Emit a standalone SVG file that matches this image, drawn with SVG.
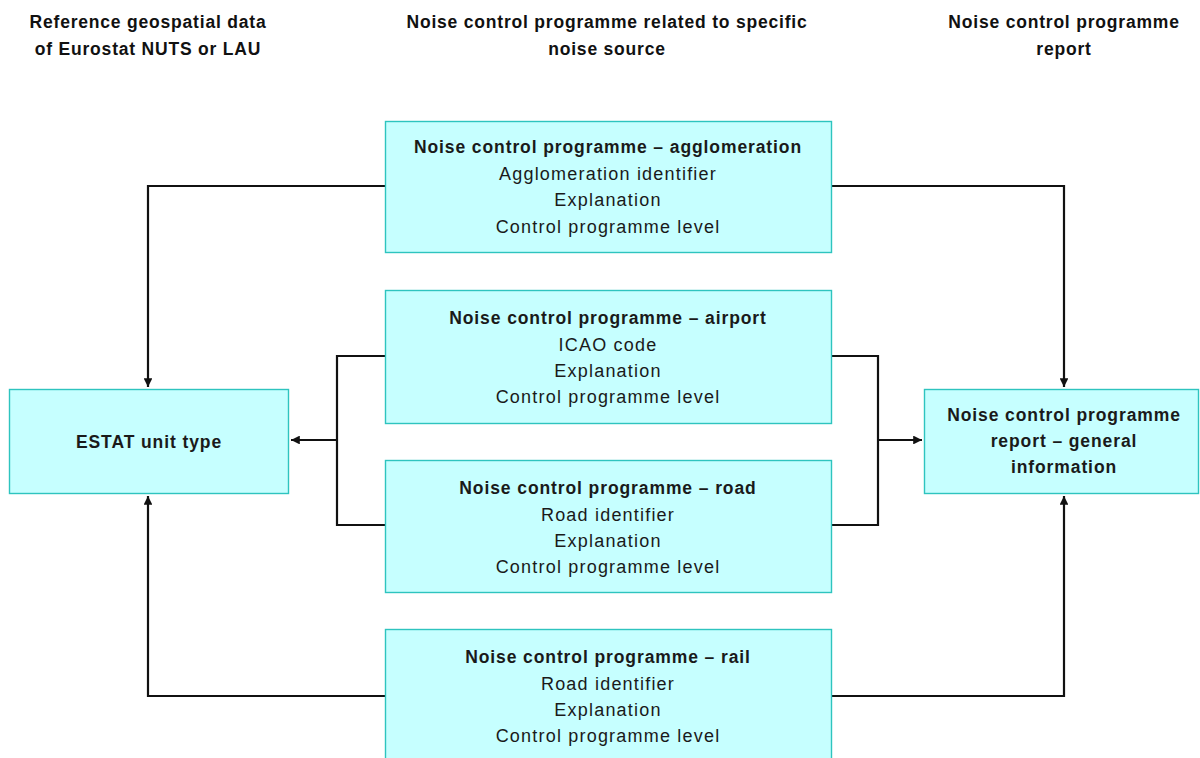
<svg xmlns="http://www.w3.org/2000/svg" width="1200" height="758" viewBox="0 0 1200 758">
<defs>
<style>
.box{fill:#C6FFFF;stroke:#2EC4BF;stroke-width:1.4}
.t{font-family:"Liberation Sans",Arial,sans-serif;font-size:18px;letter-spacing:1.2px;fill:#1a1a1a;text-anchor:middle}
.b{font-weight:bold;font-size:17.5px;letter-spacing:0.9px}
.h{font-family:"Liberation Sans",Arial,sans-serif;font-size:17.5px;letter-spacing:0.8px;font-weight:bold;fill:#111;text-anchor:middle}
.c{fill:none;stroke:#111;stroke-width:2.2}
</style>
<marker id="ah" viewBox="0 0 10 10" refX="10" refY="5" markerWidth="4" markerHeight="4" orient="auto" markerUnits="strokeWidth">
<path d="M0,0 L10,5 L0,10 z" fill="#111"/>
</marker>
</defs>
<rect width="1200" height="758" fill="#fff"/>
<g id="headers">
<text class="h" x="148" y="28">Reference geospatial data</text>
<text class="h" x="148" y="55">of Eurostat NUTS or LAU</text>
<text class="h" x="607" y="28">Noise control programme related to specific</text>
<text class="h" x="607" y="55">noise source</text>
<text class="h" x="1064" y="28">Noise control programme</text>
<text class="h" x="1064" y="55">report</text>
</g>
<g id="connectors">
<path class="c" d="M385,186 H148 V387" marker-end="url(#ah)"/>
<path class="c" d="M832,186 H1064 V387" marker-end="url(#ah)"/>
<path class="c" d="M385,356 H337 V525 H385"/>
<path class="c" d="M337,440 H291" marker-end="url(#ah)"/>
<path class="c" d="M832,356 H878 V525 H832"/>
<path class="c" d="M878,440 H922" marker-end="url(#ah)"/>
<path class="c" d="M385,696 H148 V496" marker-end="url(#ah)"/>
<path class="c" d="M832,696 H1064 V496" marker-end="url(#ah)"/>
</g>
<g id="estat">
<rect class="box" x="9.5" y="389.5" width="279" height="104"/>
<text class="t b" x="149" y="448">ESTAT unit type</text>
</g>
<g id="report">
<rect class="box" x="924.5" y="389.5" width="274" height="104"/>
<text class="t b" x="1064" y="421">Noise control programme</text>
<text class="t b" x="1064" y="447">report – general</text>
<text class="t b" x="1064" y="473">information</text>
</g>
<g id="agglomeration">
<rect class="box" x="385.5" y="121.5" width="446" height="131"/>
<text class="t b" x="608" y="153">Noise control programme – agglomeration</text>
<text class="t" x="608" y="180">Agglomeration identifier</text>
<text class="t" x="608" y="206">Explanation</text>
<text class="t" x="608" y="233">Control programme level</text>
</g>
<g id="airport">
<rect class="box" x="385.5" y="290.5" width="446" height="133"/>
<text class="t b" x="608" y="324">Noise control programme – airport</text>
<text class="t" x="608" y="351">ICAO code</text>
<text class="t" x="608" y="377">Explanation</text>
<text class="t" x="608" y="403">Control programme level</text>
</g>
<g id="road">
<rect class="box" x="385.5" y="460.5" width="446" height="132"/>
<text class="t b" x="608" y="494">Noise control programme – road</text>
<text class="t" x="608" y="521">Road identifier</text>
<text class="t" x="608" y="547">Explanation</text>
<text class="t" x="608" y="573">Control programme level</text>
</g>
<g id="rail">
<rect class="box" x="385.5" y="629.5" width="446" height="134"/>
<text class="t b" x="608" y="663">Noise control programme – rail</text>
<text class="t" x="608" y="690">Road identifier</text>
<text class="t" x="608" y="716">Explanation</text>
<text class="t" x="608" y="742">Control programme level</text>
</g>
</svg>
